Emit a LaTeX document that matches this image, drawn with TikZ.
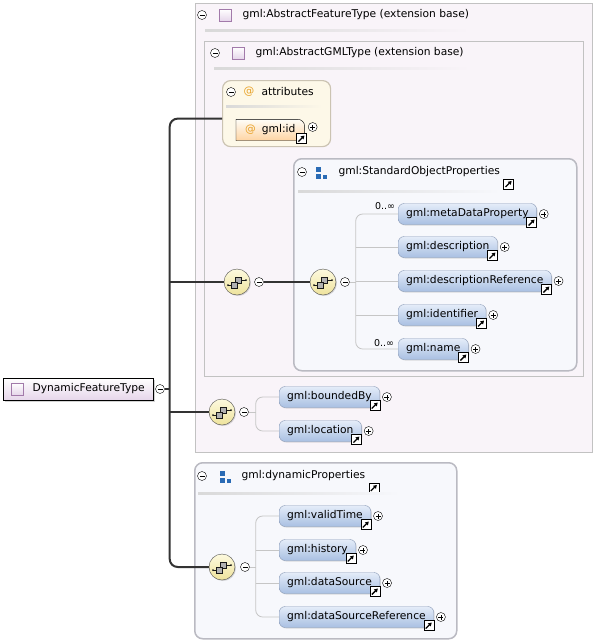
\documentclass[tikz,border=0pt]{standalone}
\usepackage{fontspec}
\setmainfont{DejaVu Sans}
\usetikzlibrary{positioning,arrows.meta,shadows}

\definecolor{pinkbg}{HTML}{F9F4F9}
\definecolor{boxline}{HTML}{C2C2C2}
\definecolor{attrbg}{HTML}{FDF8E8}
\definecolor{attrline}{HTML}{CBC3B2}
\definecolor{grpbg}{HTML}{F7F8FC}
\definecolor{grpline}{HTML}{BABAC2}
\definecolor{eltop}{HTML}{E4ECF9}
\definecolor{elbot}{HTML}{A9C0E2}
\definecolor{elline}{HTML}{8C9CB8}
\definecolor{seqtop}{HTML}{FDFADF}
\definecolor{seqbot}{HTML}{EEE29C}
\definecolor{atorange}{HTML}{E8A228}
\definecolor{typeline}{HTML}{A27AAA}
\definecolor{typefill}{HTML}{E6D6EA}
\definecolor{gblue}{HTML}{2A6BB5}

\begin{document}
\begin{tikzpicture}[x=1pt,y=-1pt,font=\fontsize{10.7}{12}\selectfont,
    collapse/.style={circle,draw,fill=white,minimum size=9pt,inner sep=0pt,
        path picture={\draw ([xshift=-2.5pt]path picture bounding box.center) -- ([xshift=2.5pt]path picture bounding box.center);}},
    expand/.style={circle,draw,fill=white,minimum size=9pt,inner sep=0pt,
        path picture={\draw ([xshift=-2.5pt]path picture bounding box.center) -- ([xshift=2.5pt]path picture bounding box.center);
            \draw ([yshift=-2.5pt]path picture bounding box.center) -- ([yshift=2.5pt]path picture bounding box.center);}},
    lnk/.style={draw=black,fill=white,minimum size=10pt,inner sep=0pt,
        path picture={\draw[line width=1.3pt,-{Triangle[length=3.5pt,width=4pt]}]
            ([shift={(-3pt,-3pt)}]path picture bounding box.center) -- ([shift={(3pt,3pt)}]path picture bounding box.center);}},
    ticon/.style={draw=typeline,top color=white,bottom color=typefill,minimum size=12pt,inner sep=0pt},
    gicon/.style={minimum size=13pt,inner sep=0pt,
        path picture={\fill[gblue] ([shift={(-5pt,5pt)}]path picture bounding box.center) rectangle +(5pt,-5pt);
            \fill[gblue] ([shift={(-5pt,-1.5pt)}]path picture bounding box.center) rectangle +(5pt,-5pt);
            \fill[gblue] ([shift={(2pt,-2.5pt)}]path picture bounding box.center) rectangle +(4pt,-4pt);}},
    seq/.style={circle,draw=gray!60!black,top color=seqtop,bottom color=seqbot,minimum size=26pt,inner sep=0pt,
        drop shadow={shadow xshift=1pt,shadow yshift=-1pt,opacity=.3},
        path picture={\draw[gray!20!black] ([shift={(-9pt,-3pt)}]path picture bounding box.center) -- +(5pt,0);
            \draw[gray!20!black] ([shift={(4pt,2pt)}]path picture bounding box.center) -- +(5pt,0);
            \fill[gray!20!black] ([shift={(-9pt,-3pt)}]path picture bounding box.center) circle (1pt);
            \fill[gray!20!black] ([shift={(9pt,2pt)}]path picture bounding box.center) circle (1pt);
            \filldraw[fill=gray!60,draw=gray!20!black] ([shift={(-2pt,-1pt)}]path picture bounding box.center) rectangle +(6pt,6pt);
            \filldraw[fill=gray!60,draw=gray!20!black] ([shift={(-6pt,-6pt)}]path picture bounding box.center) rectangle +(6pt,6pt);}},
    elem/.style={draw=elline,rounded corners=6pt,top color=eltop,bottom color=elbot,minimum height=21pt,
        inner xsep=8pt,anchor=west,drop shadow={shadow xshift=1pt,shadow yshift=-1pt,opacity=.25}},
    trunk/.style={draw=gray!40!black,line width=2pt},
    branch/.style={draw=gray!45,line width=0.8pt},
    mult/.style={font=\fontsize{9.5}{10}\selectfont},
    sep/.style={left color=gray!30,right color=#1}
]
    \useasboundingbox (0,0) rectangle (594,641);

    % Outer boxes
    \node[draw=boxline,line width=1.5pt,fill=pinkbg,minimum width=397pt,minimum height=449pt,anchor=north west] (afbox) at (194.5,2.5) {};
    \node[draw=boxline,line width=1.5pt,fill=pinkbg,minimum width=379pt,minimum height=335pt,anchor=north west] (gmlbox) at (203.5,40.5) {};
    \node[draw=attrline,line width=1.2pt,fill=attrbg,rounded corners=8pt,minimum width=108pt,minimum height=66pt,anchor=north west] (attr) at (222,80) {};
    \node[draw=grpline,line width=1.5pt,fill=grpbg,rounded corners=8pt,minimum width=283pt,minimum height=212pt,anchor=north west] (sop) at (293,158) {};
    \node[draw=grpline,line width=1.5pt,fill=grpbg,rounded corners=8pt,minimum width=262pt,minimum height=176pt,anchor=north west] (dyn) at (194,462) {};

    % Headers
    \node[collapse] (afm) at (202,15) {};
    \node[ticon] (afi) at (225,15) {};
    \node[anchor=west] (aft) at (239,15) {gml:AbstractFeatureType (extension base)};
    \shade[sep=pinkbg] (205,29.5) rectangle (470,31);

    \node[collapse] (gmlm) at (215,53) {};
    \node[ticon] (gmli) at (238,53) {};
    \node[anchor=west] (gmlt) at (252,53) {gml:AbstractGMLType (extension base)};
    \shade[sep=pinkbg] (214,67.5) rectangle (470,69);

    \node[collapse] (attrm) at (231,92) {};
    \node[text=atorange] (attri) at (249,92) {@};
    \node[anchor=west] (attrt) at (258,92) {attributes};
    \shade[sep=attrbg] (226,105.5) rectangle (322,107);

    \node[collapse] (sopm) at (302,172) {};
    \node[gicon] (sopi) at (321,172) {};
    \node[anchor=west] (sopt) at (335,172) {gml:StandardObjectProperties};
    \node[lnk,anchor=north west,yshift=2pt] (sopl) at (sopt.south east) {};
    \shade[sep=grpbg] (298,190.5) rectangle (500,192);

    \node[collapse] (dynm) at (202,476) {};
    \node[gicon] (dyni) at (225,476) {};
    \node[anchor=west] (dynt) at (238,476) {gml:dynamicProperties};
    \node[lnk,anchor=north west,yshift=2pt] (dynl) at (dynt.south east) {};
    \shade[sep=grpbg] (198,492.5) rectangle (400,494);

    % Attribute gml:id
    \node[minimum height=21pt,inner xsep=9pt,anchor=west] (gid) at (236,130) {\textcolor{atorange}{@}\hspace{6pt}gml:id};
    \path[draw=black,top color=white!70!attrbg,bottom color=orange!30!attrbg] (gid.south west) -- (gid.north west)
        [rounded corners=7pt] -- (gid.north east) [sharp corners] -- (gid.south east) -- cycle;
    \node[anchor=west,inner xsep=9pt] at (236,130) {\textcolor{atorange}{@}\hspace{6pt}gml:id};
    \node[lnk,anchor=south east,yshift=-3pt,xshift=2pt] (gidl) at (gid.south east) {};
    \node[expand] (gidp) at ([xshift=8pt,yshift=3pt]gid.east) {};

    % Root type
    \node[draw=black,top color=white,bottom color=typefill,minimum width=150pt,minimum height=22pt,anchor=west,
        drop shadow={shadow xshift=2pt,shadow yshift=-2pt,opacity=.35}] (dft) at (3,389) {};
    \node[ticon] (dfti) at (17,389) {};
    \node[anchor=west] (dftt) at (29,389) {DynamicFeatureType};
    \node[collapse] (dftm) at (160,389) {};

    % Compositors
    \node[seq] (s1) at (237,282) {};
    \node[collapse] (s1m) at (259,282) {};
    \node[seq] (s2) at (323,282) {};
    \node[collapse] (s2m) at (345,282) {};
    \node[seq] (s3) at (222,412) {};
    \node[collapse] (s3m) at (244,412) {};
    \node[seq] (s4) at (222,567) {};
    \node[collapse] (s4m) at (245,567) {};

    % Trunk
    \coordinate (tr) at ([xshift=5pt]dftm.east);
    \draw[trunk,rounded corners=8pt] ([yshift=-5pt]attr.west) -| (tr |- s4.west) -- (s4.west);
    \draw[trunk] (dftm.east) -- (tr);
    \draw[trunk] (tr |- s1.west) -- (s1.west);
    \draw[trunk] (tr |- s3.west) -- (s3.west);
    \draw[draw=gray!40!black,line width=1.5pt] (s1m.east) -- (s2.west);

    % Elements
    \foreach \n/\y/\t in {1/214/metaDataProperty,2/247/description,3/281/descriptionReference,4/315/identifier,5/349/name} {
        \node[elem] (m\n) at (398,\y) {gml:\t};
        \node[lnk,anchor=south east,yshift=-3pt] (m\n l) at (m\n.south east) {};
        \node[expand] (m\n p) at ([xshift=7pt]m\n.east) {};
    }
    \node[mult] (m1c) at ([xshift=-13pt,yshift=8pt]m1.west) {0..∞};
    \node[mult] (m5c) at ([xshift=-14pt,yshift=6pt]m5.west) {0..∞};
    \coordinate (s2b) at ([xshift=6pt]s2m.east);
    \draw[branch,rounded corners=7pt] (m1.west) -| (s2b |- m5.west) -- (m5.west);
    \draw[branch] (s2m.east) -- (s2b);
    \foreach \n in {2,3,4} \draw[branch] (s2b |- m\n.west) -- (m\n.west);

    \foreach \n/\y/\t in {1/397/boundedBy,2/431/location} {
        \node[elem] (b\n) at (279,\y) {gml:\t};
        \node[lnk,anchor=south east,yshift=-3pt] (b\n l) at (b\n.south east) {};
        \node[expand] (b\n p) at ([xshift=7pt]b\n.east) {};
    }
    \coordinate (s3b) at ([xshift=7pt]s3m.east);
    \draw[branch,rounded corners=7pt] (b1.west) -| (s3b |- b2.west) -- (b2.west);
    \draw[branch] (s3m.east) -- (s3b);

    \foreach \n/\y/\t in {1/516/validTime,2/550/history,3/583/dataSource,4/617/dataSourceReference} {
        \node[elem] (d\n) at (279,\y) {gml:\t};
        \node[lnk,anchor=south east,yshift=-3pt] (d\n l) at (d\n.south east) {};
        \node[expand] (d\n p) at ([xshift=7pt]d\n.east) {};
    }
    \coordinate (s4b) at ([xshift=6pt]s4m.east);
    \draw[branch,rounded corners=7pt] (d1.west) -| (s4b |- d4.west) -- (d4.west);
    \draw[branch] (s4m.east) -- (s4b);
    \foreach \n in {2,3} \draw[branch] (s4b |- d\n.west) -- (d\n.west);
\end{tikzpicture}
\end{document}
